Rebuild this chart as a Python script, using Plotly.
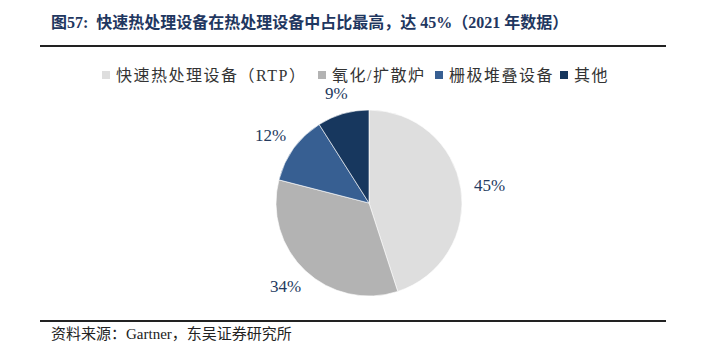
import math
import plotly.graph_objects as go

# Share of heat-treatment equipment market, 2021
labels = ["快速热处理设备（RTP）", "氧化/扩散炉", "栅极堆叠设备", "其他"]
shares = [45, 34, 12, 9]
colors = ["#DEDEDE", "#B3B3B3", "#375F92", "#17375E"]

title_text = "图57:  快速热处理设备在热处理设备中占比最高，达 45%（2021 年数据）"
source_text = "资料来源：Gartner，东吴证券研究所"

FONT = "Liberation Serif, Noto Sans CJK SC, serif"
W, H = 705, 349

# pie geometry in pixels
CX, CY, R = 369, 203, 93
LABEL_GAP = 13
LABEL_SIZE = 17


def px_x(x):
    return x / W


def px_y(y):
    return 1 - y / H


fig = go.Figure(
    go.Pie(
        labels=labels,
        values=shares,
        marker=dict(colors=colors, line=dict(color="white", width=0.6)),
        sort=False,
        direction="clockwise",
        rotation=0,
        textinfo="none",
        hoverinfo="label+percent",
        showlegend=False,
        domain=dict(x=[px_x(CX - R), px_x(CX + R)], y=[px_y(CY + R), px_y(CY - R)]),
    )
)

annotations = [
    dict(
        text="<b>" + title_text + "</b>",
        x=px_x(49), y=px_y(22), xref="paper", yref="paper",
        xanchor="left", yanchor="middle", showarrow=False,
        font=dict(family=FONT, size=16, color="#1F3760"),
    ),
    dict(
        text=source_text,
        x=px_x(49), y=px_y(334), xref="paper", yref="paper",
        xanchor="left", yanchor="middle", showarrow=False,
        font=dict(family=FONT, size=15, color="#222222"),
    ),
]

# percentage labels placed just outside each slice at its mid-angle
total = sum(shares)
cum = 0
for v in shares:
    mid = (cum + v / 2) / total * 2 * math.pi
    cum += v
    ux, uy = math.sin(mid), -math.cos(mid)
    txt = f"{v}%"
    w = LABEL_SIZE * (0.5 * (len(txt) - 1) + 0.83)
    h = LABEL_SIZE
    lx = CX + (R + LABEL_GAP) * ux + w / 2 * ux
    ly = CY + (R + LABEL_GAP) * uy + h / 2 * uy
    annotations.append(dict(
        text=txt, x=px_x(lx), y=px_y(ly), xref="paper", yref="paper",
        xanchor="center", yanchor="middle", showarrow=False,
        font=dict(family=FONT, size=LABEL_SIZE, color="#243A5E"),
    ))

# legend row: colour squares with labels
legend_x = [102, 318, 435, 560]
legend_y = 75
shapes = []
for lx, lab, col in zip(legend_x, labels, colors):
    shapes.append(dict(
        type="rect", xref="paper", yref="paper",
        x0=px_x(lx), x1=px_x(lx + 8), y0=px_y(legend_y + 4), y1=px_y(legend_y - 4),
        fillcolor=col, line=dict(width=0),
    ))
    annotations.append(dict(
        text=f"<span style='letter-spacing:1.5px'>{lab}</span>",
        x=px_x(lx + 12), y=px_y(legend_y), xref="paper", yref="paper",
        xanchor="left", yanchor="middle", showarrow=False,
        font=dict(family=FONT, size=16, color="#333333"),
    ))

shapes += [
    dict(type="line", xref="paper", yref="paper",
         x0=px_x(40), x1=px_x(666), y0=px_y(46), y1=px_y(46),
         line=dict(color="#222222", width=2)),
    dict(type="line", xref="paper", yref="paper",
         x0=px_x(40), x1=px_x(666), y0=px_y(321), y1=px_y(321),
         line=dict(color="#222222", width=2)),
]

fig.update_layout(
    width=W,
    height=H,
    margin=dict(l=0, r=0, t=0, b=0),
    paper_bgcolor="white",
    plot_bgcolor="white",
    annotations=annotations,
    shapes=shapes,
)

fig.write_html("out.html")
